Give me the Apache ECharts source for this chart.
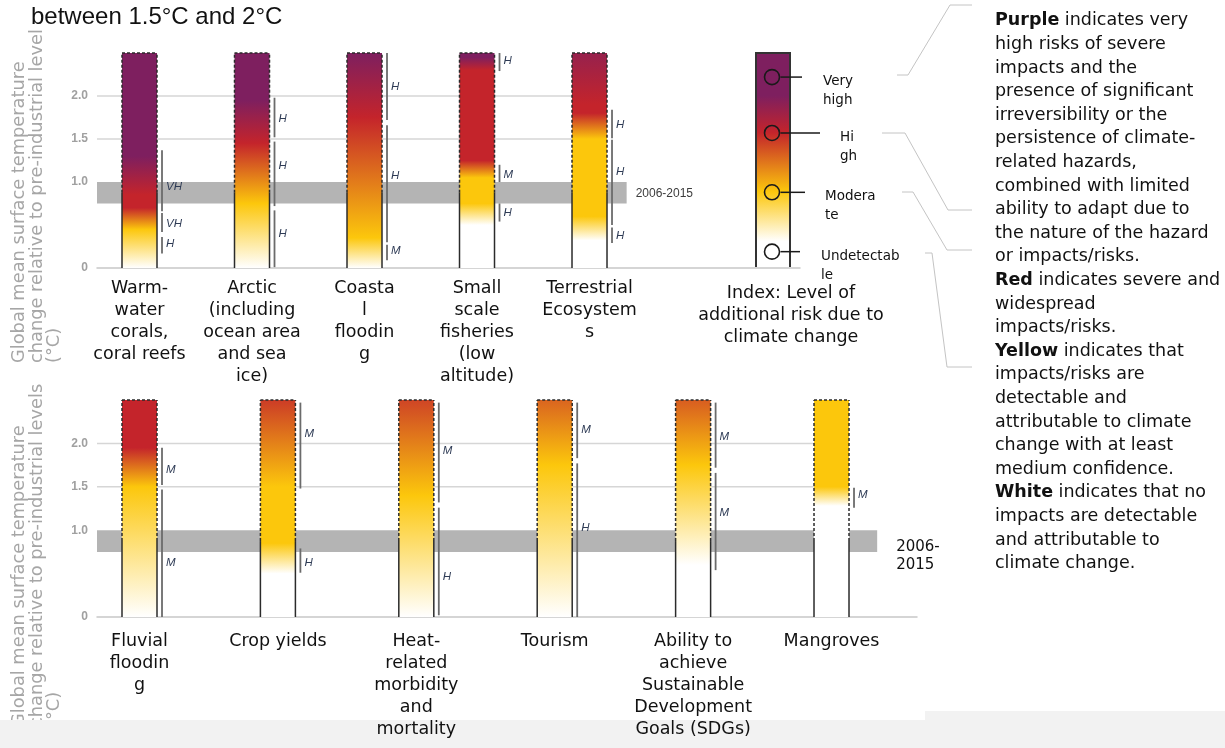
<!DOCTYPE html>
<html><head><meta charset="utf-8">
<script src="https://cdn.jsdelivr.net/npm/echarts@6/dist/echarts.min.js"></script>
<style>html,body{margin:0;padding:0;background:#fff}#c{width:1225px;height:748px}</style>
</head><body><div id="c"></div>
<script>
// ---------------- DATA ----------------
const TITLE = 'between 1.5°C and 2°C';
const Y_TITLE = 'Global mean surface temperature\nchange relative to pre-industrial levels\n(°C)';
const Y_MAX = 2.5;
const Y_TICKS = [0, 1.0, 1.5, 2.0];
const GRID_LINES = [1.5, 2.0];
const PERIOD_BAND = [0.75, 1.0];           // 2006-2015 warming range (°C)
const PERIOD_LABEL_TOP = '2006-2015';
const PERIOD_LABEL_BOTTOM = '2006-\n2015';

// risk colour levels: 0 undetectable, 1 moderate, 2 high, 3 very high
const LEVEL_COLORS = ['#ffffff', '#fcc70c', '#c4242b', '#7e1f5f'];

const TOP_CATEGORIES = ['Warm-\nwater\ncorals,\ncoral reefs', 'Arctic\n(including\nocean area\nand sea\nice)', 'Coasta\nl\nfloodin\ng', 'Small\nscale\nfisheries\n(low\naltitude)', 'Terrestrial\nEcosystem\ns'];
// [temperature °C, risk level]
const TOP_RISK = [
  [[0,0],[0.45,1],[0.7,2],[0.85,2],[1.3,3],[2.5,3]],
  [[0,0],[0.75,1],[1.45,2],[1.95,3],[2.5,3]],
  [[0,0],[0.35,1],[1.75,2],[2.5,3]],
  [[0,0],[0.5,0],[0.75,1],[1.05,1],[1.25,2],[2.3,2],[2.45,3],[2.5,3]],
  [[0,0],[0.32,0],[0.6,1],[1.5,1],[1.8,2],[1.9,2],[2.5,2.65]]
];
// confidence brackets [from °C, to °C, confidence, label at °C]
const TOP_CONFIDENCE = [
  [[0.17,0.36,'H',0.28],[0.42,0.64,'VH',0.51],[0.66,1.37,'VH',0.95]],
  [[0.01,0.67,'H',0.40],[0.72,1.47,'H',1.19],[1.52,1.98,'H',1.73]],
  [[0.09,0.27,'M',0.20],[0.30,1.66,'H',1.07],[1.72,2.5,'H',2.11]],
  [[0.54,0.75,'H',0.64],[1.0,1.2,'M',1.08],[2.29,2.5,'H',2.41]],
  [[0.29,0.47,'H',0.37],[0.5,1.49,'H',1.12],[1.51,1.84,'H',1.66]]
];

const BOTTOM_CATEGORIES = ['Fluvial\nfloodin\ng', 'Crop yields', 'Heat-\nrelated\nmorbidity\nand\nmortality', 'Tourism', 'Ability to\nachieve\nSustainable\nDevelopment\nGoals (SDGs)', 'Mangroves'];
const BOTTOM_RISK = [
  [[0,0],[1.5,1],[1.95,2],[2.5,2]],
  [[0,0],[0.5,0],[0.85,1],[1.5,1],[2.5,1.85]],
  [[0,0],[1.4,1],[2.5,1.8]],
  [[0,0],[1.75,1],[2.5,1.6]],
  [[0,0],[0.6,0],[1.75,1],[2.5,1.65]],
  [[0,0],[1.28,0],[1.5,1],[2.5,1]]
];
const BOTTOM_CONFIDENCE = [
  [[0.0,1.47,'M',0.63],[1.52,1.95,'M',1.70]],
  [[0.51,0.79,'H',0.63],[1.48,2.47,'M',2.11]],
  [[0.02,1.26,'H',0.46],[1.32,2.47,'M',1.92]],
  [[0.0,1.77,'H',1.03],[1.83,2.47,'M',2.16]],
  [[0.54,1.66,'M',1.2],[1.72,2.47,'M',2.08]],
  [[1.26,1.49,'M',1.41]]
];

const LEGEND_TITLE = 'Index: Level of\nadditional risk due to\nclimate change';
const LEGEND_LEVELS = ['Very\nhigh', 'Hi\ngh', 'Modera\nte', 'Undetectab\nle'];
const LEGEND_LEVEL_AT = [2.22, 1.57, 0.88, 0.19];
const LEGEND_RISK = [[0,0],[0.3,0],[0.88,1],[1.57,2],[2.0,3],[2.5,3]];

const NOTE_TEXT = '{b|Purple} indicates very\nhigh risks of severe\nimpacts and the\npresence of significant\nirreversibility or the\npersistence of climate-\nrelated hazards,\ncombined with limited\nability to adapt due to\nthe nature of the hazard\nor impacts/risks.\n{b|Red} indicates severe and\nwidespread\nimpacts/risks.\n{b|Yellow} indicates that\nimpacts/risks are\ndetectable and\nattributable to climate\nchange with at least\nmedium confidence.\n{b|White} indicates that no\nimpacts are detectable\nand attributable to\nclimate change.';

// ---------------- STYLE / LAYOUT ----------------
const FONT = '"DejaVu Sans", Verdana, sans-serif';
const BAR_HALF = 17.5;
const PANELS = [
  { grid:{left:97, top:53, width:703, height:215}, xMin:-0.3778, xMax:5.871,
    cats:TOP_CATEGORIES, risk:TOP_RISK, conf:TOP_CONFIDENCE, labelGap:9,
    bandLabel:{text:PERIOD_LABEL_TOP, dx:9, dy:1, font:'12px "Liberation Sans", Arial', fill:'#3c3c3c', lh:14} },
  { grid:{left:97, top:400, width:820, height:217}, xMin:-0.3071, xMax:5.6177,
    cats:BOTTOM_CATEGORIES, risk:BOTTOM_RISK, conf:BOTTOM_CONFIDENCE, labelGap:13,
    bandLabel:{text:PERIOD_LABEL_BOTTOM, dx:19, dy:15, font:'15px ' + FONT, fill:'#111', lh:18} }
];
const LEGEND_LINE_END = [29, 47, 32, 27];
const LEGEND_LABEL_X = [50, 67, 52, 48];

function hex(c){ return [1,3,5].map(i => parseInt(c.substr(i,2),16)); }
function levelColor(l){
  const i = Math.max(0, Math.min(2, Math.floor(l)));
  const t = Math.max(0, Math.min(1, l - i));
  const a = hex(LEVEL_COLORS[i]), b = hex(LEVEL_COLORS[i+1]);
  const m = a.map((v,k) => Math.round(v + (b[k]-v)*t));
  return 'rgb(' + m.join(',') + ')';
}
function gradient(stops){
  return new echarts.graphic.LinearGradient(0, 1, 0, 0,
    stops.map(([v,l]) => ({offset: v / Y_MAX, color: levelColor(l)})));
}

function bgRenderer(p){
  return function(params, api){
    const last = p.cats.length - 1;
    const kids = [];
    GRID_LINES.forEach(v => {
      const a = api.coord([p.xMin, v]), b = api.coord([last, v]);
      kids.push({type:'line', shape:{x1:a[0], y1:a[1], x2:b[0], y2:b[1]}, style:{stroke:'#d6d6d6', lineWidth:1.5}});
    });
    const t = api.coord([p.xMin, PERIOD_BAND[1]]), b = api.coord([last + 0.33, PERIOD_BAND[0]]);
    kids.push({type:'rect', shape:{x:t[0], y:t[1], width:b[0]-t[0], height:b[1]-t[1]}, style:{fill:'#b4b4b4'}});
    const L = p.bandLabel;
    kids.push({type:'text', x:b[0] + L.dx, y:(t[1]+b[1])/2 + L.dy,
      style:{text:L.text, font:L.font, fill:L.fill, lineHeight:L.lh, align:'left', verticalAlign:'middle'}});
    return {type:'group', children:kids};
  };
}

function barRenderer(p){
  return function(params, api){
    const i = api.value(0);
    const base = api.coord([i, 0]);
    const cx = base[0], by = base[1];
    const ty = api.coord([i, Y_MAX])[1];
    const my = api.coord([i, (PERIOD_BAND[0] + PERIOD_BAND[1]) / 2])[1];
    const l = cx - BAR_HALF, r = cx + BAR_HALF;
    const ink = '#2b2b2b';
    const kids = [
      {type:'rect', shape:{x:l, y:ty, width:2*BAR_HALF, height:by-ty}, style:{fill:gradient(p.risk[i])}},
      {type:'line', shape:{x1:l, y1:by, x2:l, y2:my}, style:{stroke:ink, lineWidth:1.5}},
      {type:'line', shape:{x1:r, y1:by, x2:r, y2:my}, style:{stroke:ink, lineWidth:1.5}},
      {type:'line', shape:{x1:l, y1:my, x2:l, y2:ty}, style:{stroke:ink, lineWidth:1.5, lineDash:[3,2]}},
      {type:'line', shape:{x1:r, y1:my, x2:r, y2:ty}, style:{stroke:ink, lineWidth:1.5, lineDash:[3,2]}},
      {type:'line', shape:{x1:l, y1:ty, x2:r, y2:ty}, style:{stroke:ink, lineWidth:1.5, lineDash:[3,2]}}
    ];
    const bx = r + 5;
    p.conf[i].forEach(([lo, hi, c, at]) => {
      const y1 = api.coord([i, lo])[1], y2 = api.coord([i, hi])[1], ly = api.coord([i, at])[1];
      kids.push({type:'line', shape:{x1:bx, y1:y1, x2:bx, y2:y2}, style:{stroke:'#6b6b6b', lineWidth:1.8}});
      kids.push({type:'text', x:bx + 4, y:ly, style:{text:c, font:'italic 11.5px "Liberation Sans", Arial', fill:'#2e3b55', align:'left', verticalAlign:'middle'}});
    });
    kids.push({type:'text', x:cx, y:by + p.labelGap,
      style:{text:p.cats[i], font:'17.5px ' + FONT, fill:'#111', lineHeight:22, align:'center', verticalAlign:'top'}});
    return {type:'group', children:kids};
  };
}

function legendRenderer(params, api){
  const base = api.coord([0, 0]);
  const cx = base[0], by = base[1];
  const ty = api.coord([0, Y_MAX])[1];
  const hw = api.size([1, 0])[0] / 2;
  const kids = [
    {type:'rect', shape:{x:cx-hw, y:ty, width:2*hw, height:by-ty-1}, style:{fill:gradient(LEGEND_RISK)}},
    {type:'polyline', shape:{points:[[cx-hw, by-1],[cx-hw, ty],[cx+hw, ty],[cx+hw, by-1]]}, style:{stroke:'#333', lineWidth:2, fill:null}}
  ];
  LEGEND_LEVELS.forEach((name, k) => {
    const y = api.coord([0, LEGEND_LEVEL_AT[k]])[1];
    kids.push({type:'line', shape:{x1:cx+7.5, y1:y, x2:cx+LEGEND_LINE_END[k], y2:y}, style:{stroke:'#1a1a1a', lineWidth:1.5}});
    kids.push({type:'circle', shape:{cx:cx-1, cy:y, r:7.5}, style:{stroke:'#1a1a1a', lineWidth:1.6, fill:null}});
    kids.push({type:'text', x:cx + LEGEND_LABEL_X[k], y:y - 5,
      style:{text:name, font:'13.5px ' + FONT, fill:'#111', lineHeight:19, align:'left', verticalAlign:'top'}});
  });
  kids.push({type:'text', x:cx + 18, y:by + 14,
    style:{text:LEGEND_TITLE, font:'17.5px ' + FONT, fill:'#111', lineHeight:22, align:'center', verticalAlign:'top'}});
  return {type:'group', children:kids};
}

const chart = echarts.init(document.getElementById('c'), null, {renderer:'canvas'});
const yLabel = {color:'#a0a0a0', fontWeight:'bold', fontSize:12, fontFamily:'"Liberation Sans", Arial', margin:9,
  formatter: v => Y_TICKS.indexOf(v) >= 0 ? (v === 0 ? '0' : v.toFixed(1)) : ''};

const option = {
  animation:false,
  backgroundColor:'#ffffff',
  grid:[PANELS[0].grid, PANELS[1].grid, {left:756, top:53, width:34, height:215}],
  xAxis:[
    ...PANELS.map((p, gi) => ({gridIndex:gi, type:'value', min:p.xMin, max:p.xMax,
      axisLine:{show:true, lineStyle:{color:'#c8c8c8', width:1.5}}, axisTick:{show:false}, axisLabel:{show:false}, splitLine:{show:false}})),
    {gridIndex:2, type:'category', data:[''], show:false}
  ],
  yAxis:[
    ...PANELS.map((p, gi) => ({gridIndex:gi, type:'value', min:0, max:Y_MAX, interval:0.5,
      axisLine:{show:false}, axisTick:{show:false}, splitLine:{show:false}, axisLabel:yLabel})),
    {gridIndex:2, type:'value', min:0, max:Y_MAX, show:false}
  ],
  series:[
    ...PANELS.map((p, gi) => ({type:'custom', xAxisIndex:gi, yAxisIndex:gi, z:2, silent:true, clip:false,
      data:[[0]], renderItem:bgRenderer(p)})),
    ...PANELS.map((p, gi) => ({type:'custom', xAxisIndex:gi, yAxisIndex:gi, z:4, silent:true, clip:false,
      data:p.cats.map((c, i) => [i]), renderItem:barRenderer(p)})),
    {type:'custom', xAxisIndex:2, yAxisIndex:2, z:4, silent:true, clip:false, data:[[0]], renderItem:legendRenderer}
  ],
  graphic:[
    {type:'text', z:0, x:11, y:363, rotation:Math.PI/2,
      style:{text:Y_TITLE, font:'17.8px ' + FONT, fill:'#a6a6a6', lineHeight:17.5, align:'left', verticalAlign:'top'}},
    {type:'text', z:0, x:11, y:727, rotation:Math.PI/2,
      style:{text:Y_TITLE, font:'17.8px ' + FONT, fill:'#a6a6a6', lineHeight:17.5, align:'left', verticalAlign:'top'}},
    {type:'rect', z:1, shape:{x:0, y:0, width:95, height:30}, style:{fill:'#ffffff'}},
    {type:'rect', z:1, shape:{x:0, y:720, width:925, height:28}, style:{fill:'#f2f2f2'}},
    {type:'rect', z:1, shape:{x:925, y:711, width:300, height:37}, style:{fill:'#f2f2f2'}},
    {type:'text', z:6, x:31, y:17, style:{text:TITLE, font:'24px "Liberation Sans", Arial', fill:'#111', align:'left', verticalAlign:'middle'}},
    ...[[[897,75],[908,75],[950,5],[972,5]],
        [[882,133],[905,133],[948,210],[972,210]],
        [[902,192],[913,192],[947,250],[972,250]],
        [[925,253],[932,253],[947,367],[972,367]]].map(pts => ({type:'polyline', z:6, shape:{points:pts}, style:{stroke:'#c4c4c4', lineWidth:1, fill:null}})),
    {type:'text', z:6, x:995, y:9, style:{text:NOTE_TEXT, font:'17.5px ' + FONT, fill:'#111', lineHeight:23.6, align:'left', verticalAlign:'top',
      rich:{b:{fontWeight:'bold', fontSize:17.5, fontFamily:FONT, lineHeight:23.6, fill:'#111'}}}}
  ]
};
chart.setOption(option);
</script></body></html>
